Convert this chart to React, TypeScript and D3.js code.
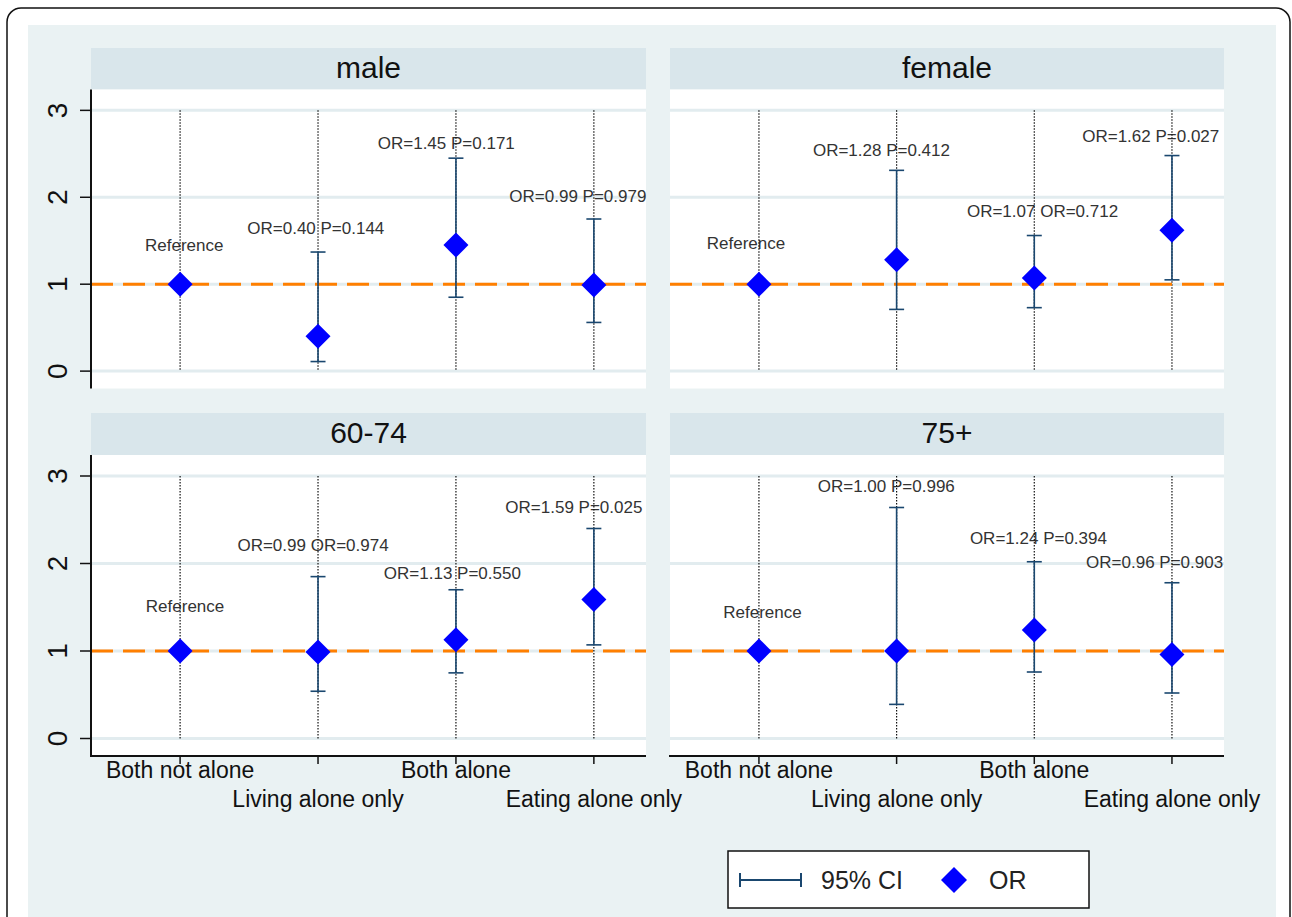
import React from "react";
import * as d3 from "d3";

const categories = ["Both not alone", "Living alone only", "Both alone", "Eating alone only"];
const panelTitles = ["male", "female", "60-74", "75+"];
const yTicks = [0, 1, 2, 3];

// OR estimates per panel
const orMale = [1, 0.4, 1.45, 0.99];
const orFemale = [1, 1.28, 1.07, 1.62];
const or6074 = [1, 0.99, 1.13, 1.59];
const or75 = [1, 1.0, 1.24, 0.96];

// 95% CI bounds (null for reference)
const ciLowMale = [null, 0.11, 0.85, 0.56];
const ciHighMale = [null, 1.37, 2.45, 1.75];
const ciLowFemale = [null, 0.71, 0.73, 1.05];
const ciHighFemale = [null, 2.31, 1.56, 2.48];
const ciLow6074 = [null, 0.54, 0.75, 1.07];
const ciHigh6074 = [null, 1.85, 1.7, 2.4];
const ciLow75 = [null, 0.39, 0.76, 0.52];
const ciHigh75 = [null, 2.64, 2.02, 1.78];

// marker labels
const labelsMale = ["Reference", "OR=0.40 P=0.144", "OR=1.45 P=0.171", "OR=0.99 P=0.979"];
const labelsFemale = ["Reference", "OR=1.28 P=0.412", "OR=1.07 OR=0.712", "OR=1.62 P=0.027"];
const labels6074 = ["Reference", "OR=0.99 OR=0.974", "OR=1.13 P=0.550", "OR=1.59 P=0.025"];
const labels75 = ["Reference", "OR=1.00 P=0.996", "OR=1.24 P=0.394", "OR=0.96 P=0.903"];

// label anchor positions in data units (category position + offset, OR scale)
const labelXMale = [1.03, 1.984, 2.93, 3.884];
const labelYMale = [1.45, 1.65, 2.62, 2.01];
const labelXFemale = [0.906, 1.89, 3.06, 3.846];
const labelYFemale = [1.47, 2.54, 1.84, 2.71];
const labelX6074 = [1.036, 1.964, 2.974, 3.855];
const labelY6074 = [1.51, 2.21, 1.89, 2.64];
const labelX75 = [1.026, 1.925, 3.03, 3.874];
const labelY75 = [1.44, 2.885, 2.29, 2.02];

const panelsData = [
  { or: orMale, lo: ciLowMale, hi: ciHighMale, labels: labelsMale, lx: labelXMale, ly: labelYMale },
  { or: orFemale, lo: ciLowFemale, hi: ciHighFemale, labels: labelsFemale, lx: labelXFemale, ly: labelYFemale },
  { or: or6074, lo: ciLow6074, hi: ciHigh6074, labels: labels6074, lx: labelX6074, ly: labelY6074 },
  { or: or75, lo: ciLow75, hi: ciHigh75, labels: labels75, lx: labelX75, ly: labelY75 },
];

const FONT = "'Liberation Sans', Arial, Helvetica, sans-serif";
const BG = "#eaf2f3";
const BAND = "#d9e6eb";
const GRID = "#e2ecef";
const NAVY = "#1a476f";
const ORANGE = "#ff7f00";
const BLUE = "#0000ff";

const colX = [
  [91, 646],
  [670, 1224],
];
const rowY = [
  { head: 48, plotTop: 89.5, plotBottom: 388.5 },
  { head: 413, plotTop: 455, plotBottom: 756 },
];

function diamondPath(cx: number, cy: number, r: number) {
  return `M${cx},${cy - r}L${cx + r},${cy}L${cx},${cy + r}L${cx - r},${cy}Z`;
}

function Panel({ idx }: { idx: number }) {
  const col = idx % 2;
  const row = Math.floor(idx / 2);
  const [x0, x1] = colX[col];
  const r = rowY[row];
  const d = panelsData[idx];
  const x = d3.scaleLinear().domain([0.354, 4.378]).range([x0, x1]);
  const y = d3.scaleLinear().domain([-0.2, 3.24]).range([r.plotBottom, r.plotTop]);
  const cats = categories.map((_, i) => i + 1);
  const capW = 7.5;
  return (
    <g>
      {/* header band */}
      <rect x={x0} y={r.head} width={x1 - x0} height={r.plotTop - r.head} fill={BAND} />
      <text
        x={(x0 + x1) / 2}
        y={(r.head + r.plotTop) / 2 + 9}
        textAnchor="middle"
        fontSize={30}
        fontFamily={FONT}
        fill="#111"
      >
        {panelTitles[idx]}
      </text>
      {/* plot region */}
      <rect x={x0} y={r.plotTop} width={x1 - x0} height={r.plotBottom - r.plotTop} fill="#fff" />
      {yTicks.map((t) => (
        <line key={t} x1={x0} x2={x1} y1={y(t)} y2={y(t)} stroke={GRID} strokeWidth={3} />
      ))}
      {/* marker labels */}
      {d.labels.map((lab, i) => (
        <text
          key={i}
          x={x(d.lx[i])}
          y={y(d.ly[i])}
          dy="0.35em"
          textAnchor="middle"
          fontSize={17}
          fontFamily={FONT}
          fill="#333"
        >
          {lab}
        </text>
      ))}
      {/* dotted verticals */}
      {cats.map((c) => (
        <line
          key={c}
          x1={x(c)}
          x2={x(c)}
          y1={y(3)}
          y2={y(0)}
          stroke="#111"
          strokeWidth={1.2}
          strokeDasharray="1.5 1.5"
        />
      ))}
      {/* reference line */}
      <line x1={x0} x2={x1} y1={y(1)} y2={y(1)} stroke={ORANGE} strokeWidth={3} strokeDasharray="22 10" />
      {/* CIs */}
      {cats.map((c, i) =>
        d.lo[i] == null ? null : (
          <g key={c} stroke={NAVY} strokeWidth={1.6}>
            <line x1={x(c)} x2={x(c)} y1={y(d.lo[i] as number)} y2={y(d.hi[i] as number)} />
            <line x1={x(c) - capW} x2={x(c) + capW} y1={y(d.lo[i] as number)} y2={y(d.lo[i] as number)} />
            <line x1={x(c) - capW} x2={x(c) + capW} y1={y(d.hi[i] as number)} y2={y(d.hi[i] as number)} />
          </g>
        )
      )}
      {/* OR markers */}
      {cats.map((c, i) => (
        <path key={c} d={diamondPath(x(c), y(d.or[i]), 12.5)} fill={BLUE} />
      ))}
      {/* y axis for left column */}
      {col === 0 && (
        <g>
          <line x1={x0} x2={x0} y1={r.plotTop} y2={r.plotBottom} stroke="#111" strokeWidth={2} />
          {yTicks.map((t) => (
            <g key={t}>
              <line x1={x0 - 11} x2={x0} y1={y(t)} y2={y(t)} stroke="#111" strokeWidth={1.5} />
              <text
                transform={`translate(${x0 - 24},${y(t)}) rotate(-90)`}
                textAnchor="middle"
                fontSize={28}
                fontFamily={FONT}
                fill="#111"
              >
                {t}
              </text>
            </g>
          ))}
        </g>
      )}
      {/* x axis for bottom row */}
      {row === 1 && (
        <g>
          <line x1={x0 - 1} x2={x1} y1={r.plotBottom} y2={r.plotBottom} stroke="#111" strokeWidth={2} />
          {cats.map((c, i) => (
            <g key={c}>
              <line x1={x(c)} x2={x(c)} y1={r.plotBottom} y2={r.plotBottom + 8} stroke="#111" strokeWidth={1.5} />
              <text
                x={x(c)}
                y={i % 2 === 0 ? r.plotBottom + 22 : r.plotBottom + 51}
                textAnchor="middle"
                fontSize={23}
                fontFamily={FONT}
                fill="#111"
              >
                {categories[i]}
              </text>
            </g>
          ))}
        </g>
      )}
    </g>
  );
}

export default function App() {
  return (
    <div style={{ position: "absolute", left: 0, top: 0 }}>
      <svg width={1292} height={917} style={{ display: "block", background: "#fff" }}>
        <rect x={7} y={8} width={1283} height={925} rx={14} fill="#fff" stroke="#111" strokeWidth={1.5} />
        <rect x={28} y={25} width={1248} height={892} fill={BG} />
        {[0, 1, 2, 3].map((i) => (
          <Panel key={i} idx={i} />
        ))}
        {/* legend */}
        <g>
          <rect x={728} y={851} width={361} height={57} fill="#fff" stroke="#111" strokeWidth={1.5} />
          <g stroke={NAVY} strokeWidth={2}>
            <line x1={740} x2={801} y1={880} y2={880} />
            <line x1={740} x2={740} y1={873} y2={887} />
            <line x1={801} x2={801} y1={873} y2={887} />
          </g>
          <text x={821} y={880} dy="0.35em" fontSize={25} fontFamily={FONT} fill="#222">
            95% CI
          </text>
          <path d={diamondPath(954, 880, 13)} fill={BLUE} />
          <text x={989} y={880} dy="0.35em" fontSize={25} fontFamily={FONT} fill="#222">
            OR
          </text>
        </g>
      </svg>
    </div>
  );
}
